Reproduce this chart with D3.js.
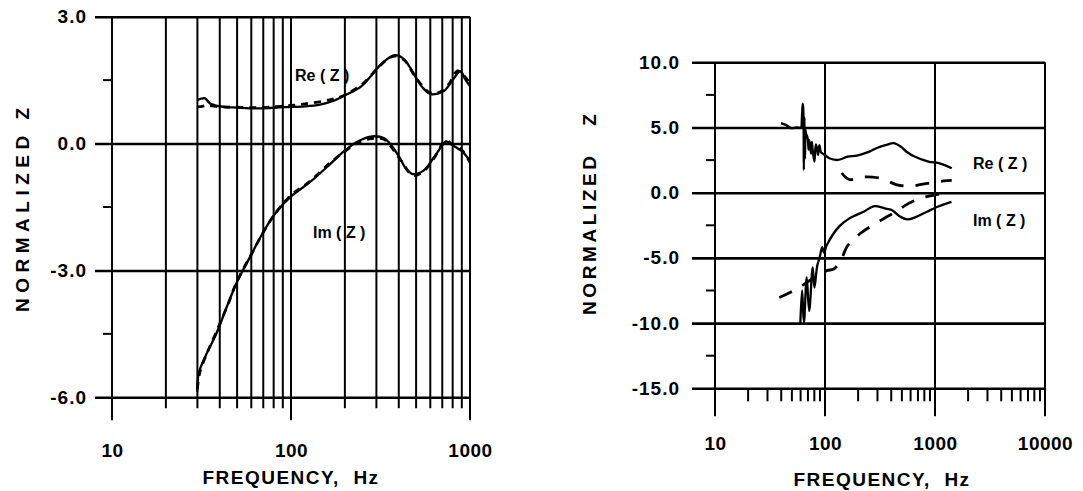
<!DOCTYPE html>
<html>
<head>
<meta charset="utf-8">
<script src="https://cdn.jsdelivr.net/npm/d3@7"></script>
<style>
html, body { margin: 0; padding: 0; background: #fff; }
svg { display: block; font-family: "Liberation Sans", Arial, sans-serif; }
</style>
</head>
<body>
<svg id="chart" width="1083" height="491"></svg>
<script>
// ---- data: [frequency Hz, normalized Z] ----
// left panel (10 - 1000 Hz)
const leftReSolid = [[30,1.03],[31.5,1.06],[33.1,1.07],[35.3,0.95],[41.8,0.87],[50,0.85],[64.4,0.83],[90.5,0.86],[120,0.88],[145,0.92],[170,1.0],[198,1.13],[248,1.36],[280,1.6],[309,1.82],[345,2.0],[378,2.09],[400,2.08],[431,1.98],[470,1.75],[505,1.52],[550,1.3],[603,1.17],[660,1.18],[720,1.25],[800,1.5],[879,1.71],[910,1.65],[939,1.52],[1000,1.36]];
const leftReDashed = [[30,0.87],[32,0.88],[34,0.9],[40,0.87],[50,0.86],[65,0.85],[80,0.87],[100,0.9],[120,0.94],[150,1.0],[175,1.06],[200,1.15],[250,1.4],[300,1.75],[340,1.97],[380,2.07],[430,1.97],[500,1.55],[600,1.2],[680,1.22],[760,1.4],[850,1.72],[920,1.62],[1000,1.42]];
const leftImSolid = [[30,-5.87],[30.5,-5.44],[33.5,-5.0],[38.3,-4.49],[43.8,-3.86],[50,-3.27],[59.6,-2.65],[68.8,-2.15],[81.4,-1.66],[100,-1.25],[127,-0.92],[166,-0.48],[198,-0.18],[236,0.05],[284,0.17],[330,0.13],[365,-0.05],[404,-0.33],[440,-0.6],[480,-0.72],[550,-0.64],[628,-0.33],[690,-0.08],[735,0.05],[785,-0.02],[900,-0.18],[1000,-0.41]];
const leftImDashed = [[30,-5.8],[31,-5.4],[34,-4.95],[38.3,-4.45],[44,-3.85],[50,-3.25],[60,-2.62],[70,-2.1],[82,-1.64],[100,-1.22],[127,-0.9],[166,-0.45],[198,-0.2],[236,0.02],[284,0.12],[330,0.1],[404,-0.35],[480,-0.75],[550,-0.66],[628,-0.35],[735,0.08],[785,0.0],[900,-0.15],[1000,-0.45]];

// right panel (10 - 10000 Hz)
const rightReSolid = [[39.8,5.34],[44,5.2],[49.1,4.96],[55,5.0],[60.5,5.0],[61.5,5.6],[62.7,6.83],[63.5,6.4],[64.2,1.75],[65,5.8],[65.8,2.6],[66.5,4.8],[67.2,4.54],[69.5,4.2],[71,3.3],[72.1,4.03],[74.6,3.0],[76,3.9],[77.3,3.27],[80.1,2.38],[82.5,3.7],[84.6,3.4],[86.5,2.9],[88.9,3.65],[91.9,3.1],[95.3,3.0],[100,2.89],[109.6,2.64],[130.5,2.51],[160.8,2.76],[195,2.85],[253,3.15],[300,3.45],[363,3.67],[420,3.8],[487,3.54],[560,3.1],[651,2.77],[871,2.38],[1084,2.26],[1420,1.87]];
const rightReDashed = [[142,1.51],[155,1.15],[168,1.0],[200,1.1],[225,1.2],[270,1.2],[312,1.12],[380,0.85],[452,0.6],[550,0.5],[653,0.52],[728,0.62],[850,0.72],[1000,0.8],[1200,0.9],[1420,0.95]];
const rightImSolid = [[59.7,-10.0],[61.9,-7.5],[64.3,-9.97],[68.2,-6.5],[71.8,-9.07],[77.3,-5.72],[80.2,-7.27],[85,-5.6],[89.5,-4.95],[94.3,-4.18],[98,-4.6],[103.7,-4.03],[134,-2.6],[167,-1.97],[224,-1.46],[280,-1.03],[349,-1.2],[404,-1.33],[486,-1.85],[563,-2.05],[676,-1.85],[846,-1.46],[1055,-1.08],[1413,-0.7]];
const rightImDashed = [[38.4,-8.04],[48,-7.65],[60,-7.2],[80,-6.5],[103.7,-5.98],[120,-5.85],[140,-5.2],[150,-4.56],[161,-4.05],[209,-3.13],[324,-2.1],[467,-1.33],[541,-0.95],[726,-0.44],[978,-0.18],[1313,0.0]];

// ticks
const leftYTicks = [3, 0, -3, -6];
const leftYMinor = [1.5, -1.5, -4.5];
const leftXLabels = [10, 100, 1000];
const rightYTicks = [10, 5, 0, -5, -10, -15];
const rightYMinor = [7.5, 2.5, -2.5, -7.5, -12.5];
const rightXLabels = [10, 100, 1000, 10000];

const svg = d3.select("#chart");
const FONT = "'Liberation Sans', Arial, sans-serif";

// every 1..9 multiple inside a log domain
function logSteps(lo, hi) {
  let out = [];
  for (let d = lo; d < hi; d *= 10) {
    for (let k = 1; k < 10; k++) out.push(d * k);
  }
  out.push(hi);
  return out;
}

function drawPanel(p) {
  let g = svg.append("g");
  let x = d3.scaleLog().domain(p.xDomain).range([p.left, p.right]);
  let y = d3.scaleLinear().domain(p.yDomain).range([p.bottom, p.top]);
  let bottom = y(p.yDomain[0]);

  // vertical lines (full grid on the left panel, majors only on the right)
  let steps = logSteps(p.xDomain[0], p.xDomain[1]);
  let isMajor = function(f) { return Math.abs(Math.log10(f) - Math.round(Math.log10(f))) < 1e-6; };
  g.selectAll(".vgrid")
    .data(steps)
    .enter()
    .append("line")
    .attr("x1", function(d) { return x(d); })
    .attr("x2", function(d) { return x(d); })
    .attr("y1", function(d) { return (isMajor(d) || p.fullGrid) ? p.top : bottom; })
    .attr("y2", function(d) { return bottom + (isMajor(d) ? p.majorDrop : p.minorDrop); })
    .attr("stroke", "#000")
    .attr("stroke-width", 2);

  // horizontal grid + y labels via axis
  let yAxis = d3.axisLeft(y)
    .tickValues(p.yTicks)
    .tickFormat(d3.format(".1f"))
    .tickSize(-(p.right - p.gridLeft))
    .tickPadding(p.yPad);
  let ya = g.append("g")
    .attr("transform", "translate(" + p.gridLeft + ",0)")
    .call(yAxis);
  ya.select(".domain").remove();
  ya.selectAll("line").attr("stroke", "#000").attr("stroke-width", 2.6);
  ya.selectAll("text")
    .attr("font-family", FONT)
    .attr("font-size", 19)
    .attr("font-weight", "bold")
    .attr("letter-spacing", 1)
    .attr("fill", "#000")
    .text(function(d) { return d3.format(".1f")(d).replace("−", "-"); });

  // minor y ticks left of the axis
  g.selectAll(".ym")
    .data(p.yMinor)
    .enter()
    .append("line")
    .attr("x1", p.left - 9)
    .attr("x2", p.left)
    .attr("y1", function(d) { return y(d); })
    .attr("y2", function(d) { return y(d); })
    .attr("stroke", "#000")
    .attr("stroke-width", 2);

  // x labels
  let xAxis = d3.axisBottom(x)
    .tickValues(p.xLabels)
    .tickFormat(d3.format("d"))
    .tickSize(0)
    .tickPadding(p.xPad);
  let xa = g.append("g")
    .attr("transform", "translate(0," + bottom + ")")
    .call(xAxis);
  xa.select(".domain").remove();
  xa.selectAll("text")
    .attr("font-family", FONT)
    .attr("font-size", 19)
    .attr("font-weight", "bold")
    .attr("letter-spacing", 0.5)
    .attr("fill", "#000");

  // curves
  let line = d3.line()
    .x(function(d) { return x(d[0]); })
    .y(function(d) { return y(d[1]); })
    .curve(d3.curveCatmullRom.alpha(0.5));
  p.series.forEach(function(s) {
    g.append("path")
      .attr("d", line(s.data))
      .attr("fill", "none")
      .attr("stroke", "#000")
      .attr("stroke-width", s.dash ? 2.8 : 2.3)
      .attr("stroke-linejoin", "round")
      .attr("stroke-dasharray", s.dash || null);
  });

  // curve labels
  p.notes.forEach(function(n) {
    g.append("text")
      .attr("x", n.x)
      .attr("y", n.y)
      .attr("font-size", 16)
      .attr("font-weight", "bold")
      .style("white-space", "pre")
      .text(n.text);
  });

  // axis titles
  g.append("text")
    .attr("x", p.xTitle[0])
    .attr("y", p.xTitle[1])
    .attr("text-anchor", "middle")
    .attr("font-size", 19)
    .attr("font-weight", "bold")
    .attr("letter-spacing", 1.5)
    .style("white-space", "pre")
    .text("FREQUENCY,  Hz");

  g.append("text")
    .attr("transform", "translate(" + p.yTitle[0] + "," + p.yTitle[1] + ") rotate(-90)")
    .attr("font-size", 19)
    .attr("font-weight", "bold")
    .attr("letter-spacing", p.yTitleSpacing)
    .style("white-space", "pre")
    .text(p.yTitleText);
}

drawPanel({
  xDomain: [10, 1000], yDomain: [-6, 3],
  left: 112, right: 470, top: 16.7, bottom: 397.3, gridLeft: 95,
  fullGrid: true, minorDrop: 11, majorDrop: 23,
  yTicks: leftYTicks, yMinor: leftYMinor, yPad: 8,
  xLabels: leftXLabels, xPad: 46,
  series: [
    { data: leftReSolid },
    { data: leftReDashed, dash: "7,6" },
    { data: leftImSolid },
    { data: leftImDashed, dash: "7,6" }
  ],
  notes: [
    { x: 295, y: 81, text: "Re ( Z )" },
    { x: 313, y: 238, text: "Im ( Z )" }
  ],
  xTitle: [291, 484],
  yTitle: [29, 312], yTitleSpacing: 5.5, yTitleText: "NORMALIZED Z"
});

drawPanel({
  xDomain: [10, 10000], yDomain: [-15, 10],
  left: 715, right: 1045, top: 62.3, bottom: 388.3, gridLeft: 692,
  fullGrid: false, minorDrop: 13, majorDrop: 28,
  yTicks: rightYTicks, yMinor: rightYMinor, yPad: 12,
  xLabels: rightXLabels, xPad: 48,
  series: [
    { data: rightReSolid },
    { data: rightReDashed, dash: "14,12" },
    { data: rightImSolid },
    { data: rightImDashed, dash: "14,12" }
  ],
  notes: [
    { x: 973, y: 169, text: "Re ( Z )" },
    { x: 973, y: 226, text: "Im ( Z )" }
  ],
  xTitle: [882, 486],
  yTitle: [596, 315], yTitleSpacing: 3.6, yTitleText: "NORMALIZED   Z"
});
</script>
</body>
</html>
